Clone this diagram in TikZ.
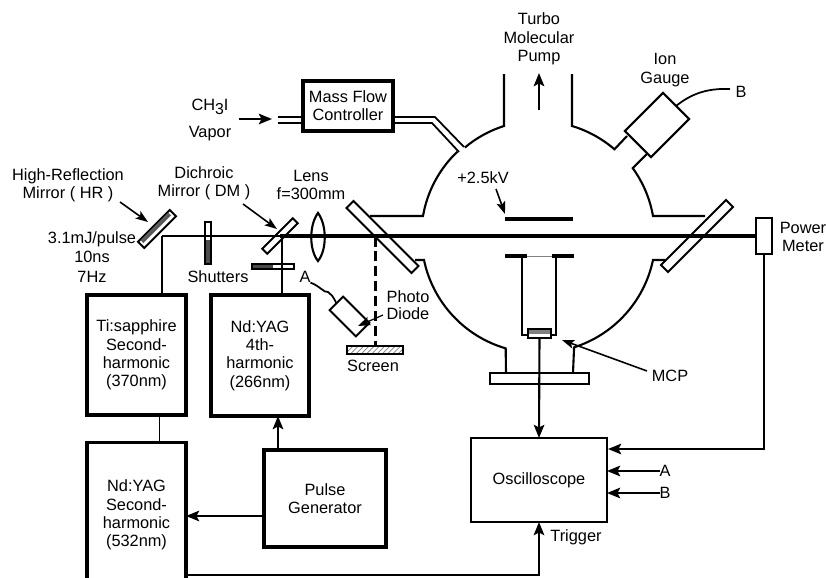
\documentclass[tikz,border=0pt]{standalone}
\usepackage{fontspec}
\setmainfont{Liberation Sans}
\usetikzlibrary{patterns,arrows.meta}
\tikzset{
  every node/.style={font=\fontsize{9.3}{10.4}\selectfont,align=center,inner sep=0pt,outer sep=0pt},
  box/.style={draw,line width=1.2pt,inner sep=0pt},
  heavybox/.style={draw,line width=2pt,inner sep=0pt},
  plate/.style={draw,line width=1.1pt,fill=white,inner sep=0pt},
  wall/.style={line width=1.2pt},
  conn/.style={line width=1pt},
  arr/.style={-{Stealth[length=7.5pt,width=6pt,inset=1.5pt]},line width=1.2pt},
  pointer/.style={-{Stealth[length=7pt,width=5pt,inset=1.5pt]},line width=0.9pt},
  beam/.style={line width=2pt}
}
\begin{document}
\begin{tikzpicture}[x=0.02cm,y=-0.02cm]

\clip (0,0) rectangle (826,578);

% windows and chamber
\node[plate,rotate=-45,minimum width=1.84cm,minimum height=0.2cm] (winleft) at (382.5,237) {};
\node[plate,rotate=45,minimum width=1.84cm,minimum height=0.2cm] (winright) at (697,236) {};

\draw[wall] (504,74) -- (504,126) arc[start angle=-107.6,end angle=-130,radius=115];
\draw[wall] (572,74) -- (572,126) arc[start angle=-73.3,end angle=-49.2,radius=116] -- (627,136);
\draw[wall] (370,216) -- (423,216) arc[start angle=-170.2,end angle=-133.6,radius=116];
\draw[wall] (705,216) -- (653,216) arc[start angle=-10,end angle=-35.9,radius=116] -- (649,152);
\draw[wall] (415,260) -- (424,260) arc[start angle=168.2,end angle=106.3,radius=117] -- (506,373);
\draw[wall] (665,260) -- (653,260) arc[start angle=11.9,end angle=72.3,radius=117] -- (573,373);
\node[plate,minimum width=1.98cm,minimum height=0.22cm] (flange) at (539.5,378.5) {};

% inside the chamber
\draw[line width=2pt] (505,219) -- (573,219);
\draw[line width=2pt] (505,256) -- (527,256);
\draw[line width=2pt] (552,256) -- (574,256);
\draw[gray,line width=0.5pt] (527,256) -- (552,256);
\draw[conn] (522,256) -- (522,335) -- (556,335) -- (556,256);
\node[plate,line width=0.7pt,minimum width=0.46cm,minimum height=0.18cm] (mcp) at (539.5,333.5) {};
\fill[black!50] (mcp.north west) rectangle (mcp.east);
\draw[line width=0.7pt] (mcp.north west) rectangle (mcp.south east);

% gas line
\node[heavybox,minimum width=1.8cm,minimum height=1cm] (massflow) at (348,106) {Mass Flow\\Controller};
\coordinate (gasa) at (278,117);
\coordinate (gasb) at (278,123);
\draw[conn] (gasa) -- (gasa -| massflow.west);
\draw[conn] (gasb) -- (gasb -| massflow.west);
\draw[conn] (massflow.east |- gasa) -- (435,117) -- (464,147);
\draw[conn] (massflow.east |- gasb) -- (432,123) -- (459,152);
\node (vapor) at (210,120) {CH\raisebox{-2.5pt}{\fontsize{9}{9}\selectfont 3}I\\[5pt]Vapor};
\coordinate (gasin) at (239,119);
\coordinate (gastip) at (272,119);
\draw[arr] (gasin) -- (gastip);

% gauge and pump
\node at (539,39) (turbo) {Turbo\\Molecular\\Pump};
\coordinate (pumpa) at (539,110);
\coordinate (pumpb) at (539,73);
\draw[arr] (pumpa) -- (pumpb);
\node (gaugelabel) at (665,70) {Ion\\Gauge};
\node[plate,line width=1.2pt,rotate=45,minimum width=1.08cm,minimum height=0.74cm] (gauge) at (657,125) {};
\node (cableb) at (741,92) {B};
\coordinate (cableend) at (730,89);
\draw[conn] (gauge.east) .. controls (690,95) and (705,88) .. (cableend);
\node (kvlabel) at (483,178) {+2.5kV};
\coordinate (kvfrom) at (496,189);
\coordinate (kvtip) at (505,214);
\draw[pointer] (kvfrom) -- (kvtip);

% mirrors and optics
\node[plate,rotate=45,minimum width=0.9cm,minimum height=0.18cm] (hrmirror) at (157,229) {};
\node[fill=black!65,rotate=45,minimum width=0.78cm,minimum height=0.07cm] (hrcoat) at (156,228) {};
\node[plate,rotate=45,minimum width=0.86cm,minimum height=0.14cm] (dichroic) at (280,236) {};
\draw[wall] (318,213) .. controls (327,225) and (327,250) .. (318,261) .. controls (309,250) and (309,225) .. (318,213) -- cycle;

\node[plate,minimum width=0.12cm,minimum height=0.84cm] (shutterb) at (208,243) {};
\fill[black!70] (205,240) rectangle (211,264);
\draw[conn] (shutterb.north west) rectangle (shutterb.south east);
\node[plate,minimum width=0.84cm,minimum height=0.1cm] (shuttera) at (273,266.5) {};
\fill[black!70] (252,264) rectangle (273,269);
\draw[conn] (shuttera.north west) rectangle (shuttera.south east);

% lasers
\node[heavybox,minimum width=1.98cm,minimum height=2.4cm] (tisa) at (136.5,355) {Ti:sapphire\\Second-\\harmonic\\(370nm)};
\node[heavybox,minimum width=1.96cm,minimum height=2.42cm] (ndfour) at (260,355.5) {Nd:YAG\\4th-\\harmonic\\(266nm)};
\node[heavybox,minimum width=1.98cm,minimum height=2.9cm] (ndtwo) at (136.5,515) {Nd:YAG\\Second-\\harmonic\\(532nm)};
\node[heavybox,minimum width=2.44cm,minimum height=1.94cm] (pulse) at (325,498.5) {Pulse\\Generator};
\node[box,minimum width=2.72cm,minimum height=1.68cm] (scope) at (539,480) {Oscilloscope};

% beam
\coordinate (hrspot) at (162,236);
\node[plate,line width=1.5pt,minimum width=0.32cm,minimum height=0.72cm] (meter) at (764,236) {};
\draw[line width=1.1pt] (hrspot) -- (dichroic.center);
\draw[beam] (dichroic.center) -- (meter.west);
\draw[conn] (hrspot) -- (hrspot |- tisa.north);
\coordinate (dmspot) at (282,236);
\draw[conn] (dmspot) -- (dmspot |- ndfour.north);
\coordinate (linkup) at (159.5,415);
\draw[conn] (linkup) -- (linkup |- ndtwo.north);

% screen and photo diode
\node[plate,pattern=north east lines,pattern color=gray,minimum width=1.12cm,minimum height=0.16cm] (screen) at (375,350) {};
\coordinate (screenspot) at (375.5,236);
\draw[line width=1.2pt,dash pattern=on 6pt off 2.5pt] (screenspot) -- (screenspot |- screen.north);
\node (screenlabel) at (373,366) {Screen};
\node[plate,rotate=-45,minimum width=0.74cm,minimum height=0.38cm] (diode) at (349.5,316.5) {};
\node (alabel) at (305,277) {A};
\draw[conn] (alabel.south east) .. controls (320,286) and (324,293) .. (328,292) .. controls (331,294) and (333,296) .. (diode.west);
\node (photolabel) at (408,305) {Photo\\[-1pt]Diode};
\coordinate (diodefrom) at (383,315);
\coordinate (diodetip) at (358,326);
\draw[pointer,line width=0.7pt] (diodefrom) -- (diodetip);

% connections
\coordinate (pgout) at (264,516);
\draw[arr] (pgout) -- (pgout -| ndtwo.east);
\coordinate (pgup) at (278,450);
\draw[arr] (pgup) -- (pgup |- ndfour.south);
\draw[arr] (mcp.south) -- (scope.north);
\coordinate (scopein) at (608,449);
\draw[arr] (meter.south) |- (scopein);
\node (osca) at (665,471) {A};
\node (oscb) at (665,493) {B};
\draw[arr] (osca.west) -- (osca -| scope.east);
\draw[arr] (oscb.west) -- (oscb -| scope.east);
\coordinate (trigstart) at (186,575);
\draw[arr] (trigstart) -| (scope.south);
\node (trigger) at (576,537) {Trigger};

% labels with pointers
\node (hrlabel) at (68,185) {High-Reflection\\Mirror ( HR )};
\coordinate (hrfrom) at (120,202);
\coordinate (hrtip) at (148,222);
\draw[pointer] (hrfrom) -- (hrtip);
\node (dmlabel) at (204,183) {Dichroic\\Mirror ( DM )};
\coordinate (dmfrom) at (243,204);
\coordinate (dmtip) at (277,229);
\draw[pointer] (dmfrom) -- (dmtip);
\node (lenslabel) at (311,185) {Lens\\f=300mm};
\node (pulselabel) at (92,257) {3.1mJ/pulse\\[0.5pt]10ns\\[0.5pt]7Hz};
\node (shutterlabel) at (218,277) {Shutters};
\node (mcplabel) at (670,376) {MCP};
\coordinate (mcpfrom) at (647,371);
\coordinate (mcptip) at (562,340);
\draw[pointer] (mcpfrom) -- (mcptip);
\node (meterlabel) at (803,237) {Power\\Meter};

\end{tikzpicture}
\end{document}
